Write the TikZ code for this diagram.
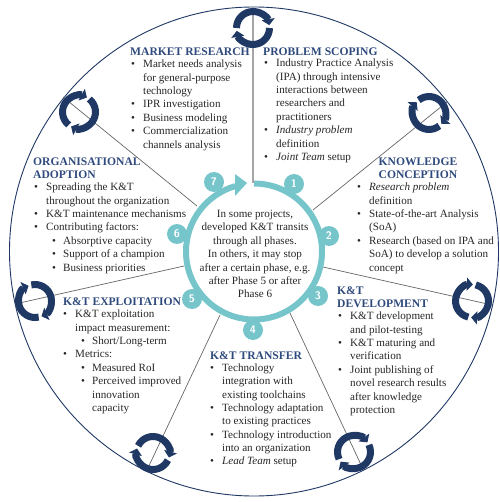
\documentclass[tikz,border=0pt]{standalone}
\usepackage{fontspec}
\setmainfont{Liberation Serif}
\usetikzlibrary{arrows.meta,calc}
\definecolor{navyicon}{HTML}{1F3864}
\definecolor{titleblue}{HTML}{2F4A7C}
\definecolor{ringteal}{HTML}{76C5CB}
\tikzset{
  phasetitle/.style={anchor=west, inner sep=0pt, text=titleblue, align=left, font=\fontsize{11.6}{13.4}\selectfont\bfseries},
  phasebody/.style={anchor=north west, inner sep=0pt, align=left, text=black!85, font=\fontsize{11.1}{13.35}\selectfont},
  phasenum/.style={circle, fill=ringteal, text=white, minimum size=20pt, inner sep=0pt, font=\fontsize{11}{11}\sffamily\bfseries},
  spoke/.style={draw=black!60, line width=0.7pt},
  cyclearc/.style={navyicon, line width=7pt, -{Triangle[length=6pt,width=13pt]}}
}
\newcommand{\bl}[1]{\makebox[12pt][l]{\textbullet}#1\\}
\newcommand{\cl}[1]{\hspace*{12pt}#1\\}
\newcommand{\sbl}[1]{\hspace*{18pt}\makebox[11pt][l]{\textbullet}#1\\}
\newcommand{\scl}[1]{\hspace*{29pt}#1\\}
% two arcs turning clockwise, y axis points down
\newcommand{\cycleicon}[2]{
  \draw[cyclearc] ($(#1)+(#2-165:16.5)$) arc[start angle=#2-165, end angle=#2+5, radius=16.5];
  \draw[cyclearc] ($(#1)+(#2+15:16.5)$) arc[start angle=#2+15, end angle=#2+185, radius=16.5];
}
\begin{document}
\begin{tikzpicture}[x=1pt,y=-1pt]
\useasboundingbox (0,0) rectangle (499,502);
\coordinate (c) at (254,251.5);
\draw[navyicon, line width=0.9pt] (c) circle (244.5);
% spokes
\coordinate (o1) at (253,7);     \coordinate (i1) at (253,183);
\coordinate (o2) at (447,102);   \coordinate (i2) at (313,210);
\coordinate (o3) at (492,305);   \coordinate (i3) at (323,267);
\coordinate (o4) at (363,469);   \coordinate (i4) at (290,313);
\coordinate (o5) at (147,470);   \coordinate (i5) at (220,315);
\coordinate (o6) at (15,304);    \coordinate (i6) at (184,266);
\coordinate (o7) at (63,97);     \coordinate (i7) at (197,206);
\draw[spoke, draw=black!35, line width=1.4pt] (o1) -- (i1);
\draw[spoke] (o2) -- (i2);
\draw[spoke] (o3) -- (i3);
\draw[spoke] (o4) -- (i4);
\draw[spoke] (o5) -- (i5);
\draw[spoke] (o6) -- (i6);
\draw[spoke] (o7) -- (i7);
% cycle icons
\coordinate (k1) at (253,28);
\coordinate (k2) at (429,113);
\coordinate (k3) at (472,301);
\coordinate (k4) at (354,452);
\coordinate (k5) at (153,453);
\coordinate (k6) at (35,301);
\coordinate (k7) at (79,112);
\foreach \k/\a in {k1/-15,k2/36.4,k3/87.9,k4/139.3,k5/190.7,k6/242.1,k7/293.6}{
  \cycleicon{\k}{\a}
}
% centre ring
\draw[ringteal, line width=6pt] ($(c)+(-90:68)$) arc[start angle=-90, end angle=254, radius=68];
\fill[ringteal] (247,183) -- (235,174) -- (235,196) -- cycle;
\node[phasenum] (n1) at (294,184) {1};
\node[phasenum] (n2) at (329,236) {2};
\node[phasenum] (n3) at (318,296) {3};
\node[phasenum] (n4) at (253,330) {4};
\node[phasenum] (n5) at (192,299) {5};
\node[phasenum] (n6) at (177,234) {6};
\node[phasenum] (n7) at (214,182) {7};
\node[align=center, inner sep=0pt, text=black!85, font=\fontsize{11.1}{13.4}\selectfont] (centre) at (255,254) {In some projects,\\developed K\&T transits\\through all phases.\\In others, it may stop\\after a certain phase, e.g.\\after Phase 5 or after\\Phase 6};
% titles and bodies
\node[phasetitle] (t1) at (130,52) {MARKET RESEARCH};
\node[phasebody] (b1) at (131,60) {\bl{Market needs analysis}\cl{for general-purpose}\cl{technology}\bl{IPR investigation}\bl{Business modeling}\bl{Commercialization}\cl{channels analysis}};
\node[phasetitle] (t2) at (263,52) {PROBLEM SCOPING};
\node[phasebody] (b2) at (264,59) {\bl{Industry Practice Analysis}\cl{(IPA) through intensive}\cl{interactions between}\cl{researchers and}\cl{practitioners}\bl{\textit{Industry problem}}\cl{definition}\bl{\textit{Joint Team} setup}};
\node[phasetitle, align=center, anchor=center] (t3) at (418,168.5) {KNOWLEDGE\\CONCEPTION};
\node[phasebody] (b3) at (357,183) {\bl{\textit{Research problem}}\cl{definition}\bl{State-of-the-art Analysis}\cl{(SoA)}\bl{Research (based on IPA and}\cl{SoA) to develop a solution}\cl{concept}};
\node[phasetitle] (t4) at (337,297.5) {K\&T\\DEVELOPMENT};
\node[phasebody] (b4) at (338,312) {\bl{K\&T development}\cl{and pilot-testing}\bl{K\&T maturing and}\cl{verification}\bl{Joint publishing of}\cl{novel research results}\cl{after knowledge}\cl{protection}};
\node[phasetitle] (t5) at (210,356) {K\&T TRANSFER};
\node[phasebody] (b5) at (210,363.5) {\bl{Technology}\cl{integration with}\cl{existing toolchains}\bl{Technology adaptation}\cl{to existing practices}\bl{Technology introduction}\cl{into an organization}\bl{\textit{Lead Team} setup}};
\node[phasetitle] (t6) at (63,302) {K\&T EXPLOITATION};
\node[phasebody] (b6) at (63,310) {\bl{K\&T exploitation}\cl{impact measurement:}\sbl{Short/Long-term}\bl{Metrics:}\sbl{Measured RoI}\sbl{Perceived improved}\scl{innovation}\scl{capacity}};
\node[phasetitle] (t7) at (33,168) {ORGANISATIONAL\\ADOPTION};
\node[phasebody] (b7) at (34,183) {\bl{Spreading the K\&T}\cl{throughout the organization}\bl{K\&T maintenance mechanisms}\bl{Contributing factors:}\sbl{Absorptive capacity}\sbl{Support of a champion}\sbl{Business priorities}};
\end{tikzpicture}
\end{document}
